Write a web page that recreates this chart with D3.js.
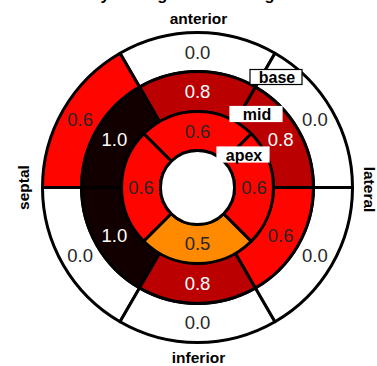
<!DOCTYPE html>
<html>
<head>
<meta charset="utf-8">
<script src="https://cdn.jsdelivr.net/npm/d3@7"></script>
<style>
  html, body { margin: 0; padding: 0; background: #fff; }
  svg { display: block; }
</style>
</head>
<body>
<svg id="chart" width="377" height="366"></svg>
<script>
// Segment scores per ring, listed counter-clockwise from the first boundary
const ringNames = ["base", "mid", "apex"];
const baseValues = [0.0, 0.6, 0.0, 0.0, 0.0, 0.0];   // starts at 60°
const midValues  = [0.8, 1.0, 1.0, 0.8, 0.6, 0.8];   // starts at 60°
const apexValues = [0.6, 0.6, 0.5, 0.6];             // starts at 45°
const directionLabels = ["anterior", "septal", "inferior", "lateral"];
const titleText = "Cycle Segment Grading";

const svg = d3.select("#chart");
const cx = 197.5, cy = 187.5;
const radius = d3.scaleLinear().domain([0, 1]).range([0, 155]);
const ringEdges = [1, 0.748, 0.49, 0.239]; // outer edge of base, mid, apex, and the hole

const color = d3.scaleLinear()
  .domain([0, 0.5, 0.6, 0.8, 1.0])
  .range(["#ffffff", "#ff8a00", "#ff0500", "#ba0000", "#120000"]);

const font = "Liberation Sans, Arial, Helvetica, sans-serif";

const g = svg.append("g").attr("transform", `translate(${cx},${cy})`);

const deg = Math.PI / 180;
const rings = [
  { values: baseValues, start: 60, outer: ringEdges[0], inner: ringEdges[1] },
  { values: midValues,  start: 60, outer: ringEdges[1], inner: ringEdges[2] },
  { values: apexValues, start: 45, outer: ringEdges[2], inner: ringEdges[3] }
];

const arc = d3.arc();
rings.forEach(ring => {
  const n = ring.values.length;
  const step = 360 / n;
  ring.values.forEach((v, i) => {
    const t1 = ring.start + i * step;       // counter-clockwise from +x
    const t2 = t1 + step;
    const r0 = radius(ring.inner), r1 = radius(ring.outer);
    g.append("path")
      .attr("d", arc({
        innerRadius: r0, outerRadius: r1,
        startAngle: (90 - t2) * deg, endAngle: (90 - t1) * deg
      }))
      .attr("fill", color(v))
      .attr("stroke", "#000")
      .attr("stroke-width", 3)
      .attr("stroke-linejoin", "round");
    const tm = (t1 + t2) / 2 * deg;
    const rm = (r0 + r1) / 2;
    g.append("text")
      .attr("x", rm * Math.cos(tm))
      .attr("y", -rm * Math.sin(tm))
      .attr("text-anchor", "middle")
      .attr("dominant-baseline", "central")
      .attr("font-family", font)
      .attr("font-size", 18.5)
      .attr("fill", v >= 0.75 ? "#ffffff" : "#262626")
      .text(v.toFixed(1));
  });
});

// Empty centre
g.append("circle")
  .attr("r", radius(ringEdges[3]))
  .attr("fill", "#fff")
  .attr("stroke", "#000")
  .attr("stroke-width", 3);

// Direction labels
const dirSize = 15.5;
svg.append("text").attr("x", cx + 1).attr("y", 24).attr("text-anchor", "middle")
  .attr("font-family", font).attr("font-weight", "bold").attr("font-size", dirSize)
  .text(directionLabels[0]);
svg.append("text").attr("x", cx + 1).attr("y", 363).attr("text-anchor", "middle")
  .attr("font-family", font).attr("font-weight", "bold").attr("font-size", dirSize)
  .text(directionLabels[2]);
svg.append("text").attr("transform", `translate(29,${cy}) rotate(-90)`).attr("text-anchor", "middle")
  .attr("font-family", font).attr("font-weight", "bold").attr("font-size", dirSize)
  .text(directionLabels[1]);
svg.append("text").attr("transform", `translate(364,${cy + 2}) rotate(90)`).attr("text-anchor", "middle")
  .attr("font-family", font).attr("font-weight", "bold").attr("font-size", dirSize)
  .text(directionLabels[3]);

// Title (sits at the very top edge, only its lowest strokes fall inside the view)
svg.append("text").attr("x", 88.5).attr("y", -0.5)
  .attr("font-family", font).attr("font-weight", "bold").attr("font-size", 16.5)
  .text(titleText);

// Ring name tags
const tags = [
  { name: ringNames[0], x: 276, y: 77, border: "#000" },
  { name: ringNames[1], x: 256, y: 114, border: "#fff" },
  { name: ringNames[2], x: 243, y: 154.5, border: "#fff" }
];
tags.forEach(t => {
  svg.append("rect")
    .attr("x", t.x - 26).attr("y", t.y - 7.5)
    .attr("width", 52).attr("height", 15)
    .attr("fill", "#fff").attr("stroke", t.border).attr("stroke-width", 1.2);
  svg.append("text")
    .attr("x", t.x + 1).attr("y", t.y + 0.5)
    .attr("text-anchor", "middle").attr("dominant-baseline", "central")
    .attr("font-family", font).attr("font-weight", "bold").attr("font-size", 16)
    .text(t.name);
});
</script>
</body>
</html>
